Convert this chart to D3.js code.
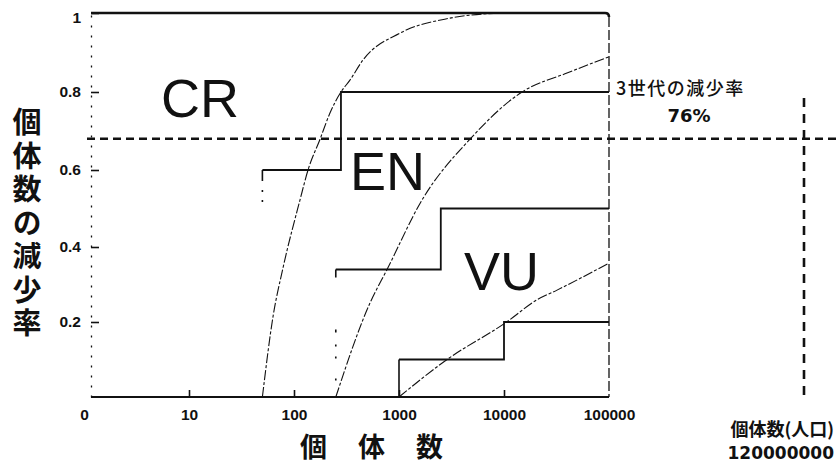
<!DOCTYPE html>
<html>
<head>
<meta charset="utf-8">
<script src="https://cdn.jsdelivr.net/npm/d3@7"></script>
<style>
  body { margin: 0; background: #fff; }
  svg { display: block; }
</style>
</head>
<body>
<svg id="chart" width="836" height="465"></svg>
<script>
// ---- data -------------------------------------------------------------
const xTickValues = [1, 10, 100, 1000, 10000, 100000];
const xTickLabels = ["0", "10", "100", "1000", "10000", "100000"];
const yTickValues = [0.2, 0.4, 0.6, 0.8, 1];
const yTickLabels = ["0.2", "0.4", "0.6", "0.8", "1"];

const categories = ["CR", "EN", "VU"];

// decline-rate curves: population size (N) and rate of decline
const crCurveN = [50, 63, 79, 114, 136, 177, 220, 280, 341, 454, 1023, 3060, 9160];
const crCurveV = [0, 0.213, 0.347, 0.522, 0.6, 0.679, 0.746, 0.8, 0.83, 0.881, 0.949, 0.987, 1];
const enCurveN = [250, 530, 769, 1656, 4744, 14840, 39800, 100000];
const enCurveV = [0, 0.251, 0.34, 0.522, 0.679, 0.8, 0.848, 0.889];
const vuCurveN = [1000, 2870, 10600, 20600, 32000, 100000];
const vuCurveV = [0, 0.1, 0.2, 0.259, 0.285, 0.357];

// step thresholds: breakpoints in N and the rate that holds from each breakpoint
const crStepN = [50, 280, 100000];
const crStepV = [0.6, 0.8];
const enStepN = [250, 2500, 100000];
const enStepV = [0.34, 0.5];
const vuStepN = [1000, 10000, 100000];
const vuStepV = [0.1, 0.2];

// human example
const noteTitle = "3世代の減少率";
const noteValue = "76%";
const noteLevel = 0.68;
const popTitle = "個体数(人口)";
const popValue = "120000000";

const yTitle = "個体数の減少率";
const xTitle = "個体数";

// ---- scales -----------------------------------------------------------
const svg = d3.select("#chart");
const plotLeft = 91;
const x = d3.scaleLog().domain([1, 100000]).range([84, 609]);
const y = d3.scaleLinear().domain([0, 0.2, 0.4, 0.6, 0.8, 1]).range([397, 322, 247, 170, 92, 13]);
const xMax = x(100000);
const ink = "#111";
const tickFont = "'Liberation Sans', Arial, sans-serif";

// ---- axes -------------------------------------------------------------
const xAxis = d3.axisBottom(x)
  .tickValues(xTickValues)
  .tickFormat((d, i) => xTickLabels[i])
  .tickSizeInner(-7)
  .tickSizeOuter(0)
  .tickPadding(12);
const gx = svg.append("g").attr("transform", `translate(0,${y(0)})`).call(xAxis);
gx.select(".domain").remove();
gx.selectAll(".tick line")
  .attr("stroke", ink).attr("stroke-width", 1.6)
  .attr("display", d => (d === 1 || d === 100000) ? "none" : null);
gx.selectAll(".tick text")
  .attr("fill", ink)
  .style("font-family", tickFont)
  .style("font-weight", "bold")
  .style("font-size", "15.5px");

// x axis baseline
svg.append("line")
  .attr("x1", plotLeft).attr("x2", xMax)
  .attr("y1", y(0)).attr("y2", y(0))
  .attr("stroke", ink).attr("stroke-width", 2);

const yAxis = d3.axisLeft(y)
  .tickValues(yTickValues)
  .tickFormat((d, i) => yTickLabels[i])
  .tickSizeInner(-8)
  .tickSizeOuter(0)
  .tickPadding(10);
const gy = svg.append("g").attr("transform", `translate(${plotLeft},0)`).call(yAxis);
gy.select(".domain")
  .attr("stroke", ink).attr("stroke-width", 1.3)
  .attr("stroke-dasharray", "2,8");
gy.selectAll(".tick line").attr("stroke", ink).attr("stroke-width", 1.6);
gy.selectAll(".tick text")
  .attr("fill", ink)
  .style("font-family", tickFont)
  .style("font-weight", "bold")
  .style("font-size", "15.5px");
gy.selectAll(".tick").filter(d => d === 1).select("text").attr("dy", "0.6em");

// ceiling at rate 1 and right border at N = 100000
svg.append("path")
  .attr("d", `M${plotLeft},${y(1)}H${xMax - 4}Q${xMax},${y(1)} ${xMax},${y(1) + 4}`)
  .attr("fill", "none").attr("stroke", ink).attr("stroke-width", 2.6);
svg.append("line")
  .attr("x1", xMax).attr("x2", xMax)
  .attr("y1", y(1) + 4).attr("y2", y(0))
  .attr("stroke", ink).attr("stroke-width", 1.3)
  .attr("stroke-dasharray", "10,3");

// ---- curves -----------------------------------------------------------
const line = d3.line()
  .x(d => x(d[0]))
  .y(d => y(d[1]))
  .curve(d3.curveMonotoneX);

const curves = [
  d3.zip(crCurveN, crCurveV),
  d3.zip(enCurveN, enCurveV),
  d3.zip(vuCurveN, vuCurveV)
];
svg.append("g").selectAll("path")
  .data(curves)
  .join("path")
  .attr("d", line)
  .attr("fill", "none")
  .attr("stroke", ink)
  .attr("stroke-width", 1.1)
  .attr("stroke-dasharray", "10,2,3,2");

// ---- step thresholds --------------------------------------------------
const steps = [
  { n: crStepN, v: crStepV, riser: "11,9,2,8,2,400" },
  { n: enStepN, v: enStepV, riser: "8,52,3,12,2,10,2,20,2,400" },
  { n: vuStepN, v: vuStepV, riser: null }
];
steps.forEach(s => {
  const pts = [];
  s.v.forEach((v, i) => {
    pts.push([s.n[i], v]);
    pts.push([s.n[i + 1], v]);
  });
  svg.append("path")
    .attr("d", d3.line().x(d => x(d[0])).y(d => y(d[1])).curve(d3.curveLinear)(pts))
    .attr("fill", "none").attr("stroke", ink).attr("stroke-width", 1.8);
  // riser from zero up to the first level, drawn from the top down
  svg.append("line")
    .attr("x1", x(s.n[0])).attr("x2", x(s.n[0]))
    .attr("y1", y(s.v[0])).attr("y2", y(0))
    .attr("stroke", ink).attr("stroke-width", 1.6)
    .attr("stroke-dasharray", s.riser);
});

// ---- category labels --------------------------------------------------
const bigFont = "'Liberation Sans', Arial, sans-serif";
const catPos = { CR: [161, 117], EN: [350, 190], VU: [464, 290] };
svg.append("g").selectAll("text")
  .data(categories)
  .join("text")
  .attr("x", d => catPos[d][0])
  .attr("y", d => catPos[d][1])
  .text(d => d)
  .attr("fill", ink)
  .style("font-family", bigFont)
  .style("font-size", "54px");

// ---- human population example ----------------------------------------
const crossX = 804;
svg.append("line")
  .attr("x1", 87).attr("x2", 836)
  .attr("y1", y(noteLevel)).attr("y2", y(noteLevel))
  .attr("stroke", ink).attr("stroke-width", 2.6)
  .attr("stroke-dasharray", "8,5");
svg.append("line")
  .attr("x1", crossX).attr("x2", crossX)
  .attr("y1", 98).attr("y2", 395)
  .attr("stroke", ink).attr("stroke-width", 2.6)
  .attr("stroke-dasharray", "9,7");

const cjk = "'Noto Sans CJK JP', sans-serif";
svg.append("text")
  .attr("x", 616).attr("y", 95)
  .text(noteTitle)
  .attr("fill", ink)
  .style("font-family", cjk)
  .style("font-weight", "500")
  .style("font-size", "18px")
  .style("letter-spacing", "1.5px");
svg.append("text")
  .attr("x", 689).attr("y", 122)
  .attr("text-anchor", "middle")
  .text(noteValue)
  .attr("fill", ink)
  .style("font-family", "'DejaVu Sans', sans-serif")
  .style("font-weight", "bold")
  .style("font-size", "18px");
svg.append("text")
  .attr("x", 834).attr("y", 436)
  .attr("text-anchor", "end")
  .text(popTitle)
  .attr("fill", ink)
  .style("font-family", cjk)
  .style("font-weight", "bold")
  .style("font-size", "18px");
svg.append("text")
  .attr("x", 834).attr("y", 459)
  .attr("text-anchor", "end")
  .text(popValue)
  .attr("fill", ink)
  .style("font-family", "'DejaVu Sans', sans-serif")
  .style("font-weight", "bold")
  .style("font-size", "17px");

// ---- axis titles ------------------------------------------------------
// vertical title set as one column of text
svg.append("text")
  .attr("x", 27)
  .attr("y", 225)
  .attr("text-anchor", "middle")
  .text(yTitle)
  .attr("fill", ink)
  .style("writing-mode", "vertical-rl")
  .style("font-family", cjk)
  .style("font-weight", "bold")
  .style("font-size", "29px")
  .style("letter-spacing", "4.5px");

svg.append("text")
  .attr("x", 372)
  .attr("y", 457)
  .attr("text-anchor", "middle")
  .text(xTitle)
  .attr("fill", ink)
  .style("font-family", cjk)
  .style("font-weight", "bold")
  .style("font-size", "27px")
  .style("letter-spacing", "31px")
  .attr("dx", "15px");
</script>
</body>
</html>
